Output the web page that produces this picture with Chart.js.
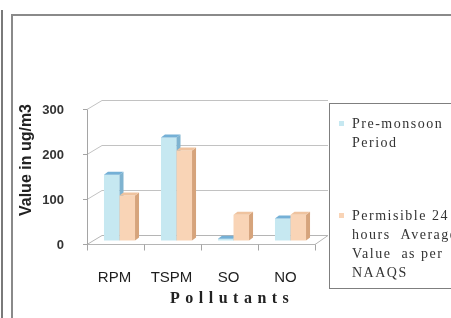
<!DOCTYPE html>
<html>
<head>
<meta charset="utf-8">
<script src="https://cdn.jsdelivr.net/npm/chart.js@4.4.1/dist/chart.umd.min.js"></script>
<style>
  html, body { margin: 0; padding: 0; background: #fff; }
  body { width: 451px; height: 318px; overflow: hidden; position: relative; }
  #wrap { position: absolute; left: 0; top: 0; width: 451px; height: 318px; }
  .rule-left { position: absolute; left: 1px; top: 10px; width: 2px; height: 310px; background: #7a7a7a; }
  .frame { position: absolute; left: 11px; top: 14px; width: 460px; height: 320px;
           border-left: 2px solid #8a8a8a; border-top: 2px solid #8a8a8a; }
  .ytitle { position: absolute; left: 26px; top: 160px; transform: translate(-50%, -50%) rotate(-90deg);
            font: bold 16px "Liberation Sans", Arial, sans-serif; color: #222; white-space: nowrap; }
  .xtitle { position: absolute; left: 170px; top: 289px; line-height: 16px;
            font: bold 16px "Liberation Serif", "Times New Roman", serif; letter-spacing: 5.5px; color: #222; }
  #legend { position: absolute; left: 329px; top: 103px; width: 140px; height: 184px;
            border: 1px solid #7f7f7f; font: 14px "Liberation Serif", "Times New Roman", serif;
            letter-spacing: 1.5px; color: #333; line-height: 19px; }
  .item { position: absolute; left: 8px; }
  .item .mk { position: absolute; left: 1px; top: 7px; width: 5px; height: 5px; }
  .item .tx { position: absolute; left: 14px; top: 0; white-space: nowrap; }
</style>
</head>
<body>
<div id="wrap"><canvas id="chart" width="451" height="318"></canvas></div>
<div class="rule-left"></div>
<div class="frame"></div>
<div class="ytitle">Value in ug/m3</div>
<div class="xtitle">Pollutants</div>
<div id="legend"></div>
<script>
const categories = ['RPM', 'TSPM', 'SO', 'NO'];
const preMonsoon = [146, 229, 4, 49];
const naaqs = [100, 200, 57, 57];
const yTicks = [0, 100, 200, 300];
const seriesLabels = [['Pre-monsoon', 'Period'], ['Permisible 24', 'hours  Average', 'Value  as per', 'NAAQS']];

// front / side / top colours of the fake 3d bars
const faces = [
  { front: '#c6e8f1', side: '#7fb3d0', top: '#74b0d6' },
  { front: '#f9d4b6', side: '#d6a47c', top: '#efc39f' }
];

function drawWalls(chart) {
  const { ctx, chartArea: a, scales: { y } } = chart;
  const x0 = a.left + 1, x1 = a.right + 1, dx = 15, dy = -9;
  const yf = v => Math.round(y.getPixelForValue(v) - 2) + 0.5;
  ctx.save();
  ctx.lineWidth = 1;
  ctx.strokeStyle = '#c2c2c2';
  yTicks.forEach(v => {
    if (v === 0) return;
    ctx.beginPath();
    ctx.moveTo(x0, yf(v));
    ctx.lineTo(x0 + dx, yf(v) + dy);
    ctx.lineTo(x1 + dx - 2, yf(v) + dy);
    ctx.stroke();
  });
  // floor
  const f = yf(0);
  ctx.strokeStyle = '#b5b5b5';
  ctx.beginPath();
  ctx.moveTo(x0, f);
  ctx.lineTo(x1, f);
  ctx.lineTo(x1 + dx - 2, f + dy);
  ctx.lineTo(x0 + dx, f + dy);
  ctx.closePath();
  ctx.stroke();
  // left axis and tick marks
  ctx.strokeStyle = '#a5a5a5';
  ctx.beginPath();
  ctx.moveTo(x0 + 0.5, f);
  ctx.lineTo(x0 + 0.5, yf(300));
  yTicks.forEach(v => { ctx.moveTo(x0 - 4, yf(v)); ctx.lineTo(x0, yf(v)); });
  const step = (a.right - a.left) / categories.length;
  for (let i = 0; i <= categories.length; i++) {
    const x = Math.round(x0 + i * step) + 0.5;
    ctx.moveTo(x, f);
    ctx.lineTo(x, f + 6);
  }
  ctx.stroke();
  ctx.restore();
}

const depth3d = {
  id: 'depth3d',
  beforeDatasetsDraw(chart) {
    drawWalls(chart);
    // bars drawn series by series, pushed back into the box, each with its side and top
    const ctx = chart.ctx;
    const dx = 4, dy = -3;
    ctx.save();
    ctx.translate(5, -5);
    chart.data.datasets.forEach((ds, i) => {
      const c = faces[i];
      chart.getDatasetMeta(i).data.forEach(el => {
        const { x, y, base, width } = el.getProps(['x', 'y', 'base', 'width'], true);
        const l = x - width / 2, r = x + width / 2;
        el.draw(ctx);
        ctx.fillStyle = c.side;
        ctx.beginPath();
        ctx.moveTo(r, y); ctx.lineTo(r + dx, y + dy); ctx.lineTo(r + dx, base + dy); ctx.lineTo(r, base);
        ctx.closePath(); ctx.fill();
        ctx.fillStyle = c.top;
        ctx.beginPath();
        ctx.moveTo(l, y); ctx.lineTo(l + dx, y + dy); ctx.lineTo(r + dx, y + dy); ctx.lineTo(r, y);
        ctx.closePath(); ctx.fill();
      });
    });
    ctx.restore();
    return false; // skip the flat default bars
  }
};

const chart = new Chart(document.getElementById('chart'), {
  type: 'bar',
  data: {
    labels: categories,
    datasets: [
      { label: seriesLabels[0], data: preMonsoon, backgroundColor: faces[0].front, borderWidth: 0 },
      { label: seriesLabels[1], data: naaqs, backgroundColor: faces[1].front, borderWidth: 0 }
    ]
  },
  options: {
    responsive: false,
    animation: false,
    events: [],
    layout: { padding: { left: 0, right: 137, top: 110.5, bottom: 0 } },
    categoryPercentage: 0.545,
    barPercentage: 1.0,
    plugins: { legend: { display: false }, tooltip: { enabled: false } },
    scales: {
      x: {
        grid: { display: false, drawTicks: false },
        border: { display: false },
        ticks: { padding: 23, color: '#1e1e1e', font: { family: 'Liberation Sans', size: 15 } },
        afterFit(scale) { scale.height = 72.5; }
      },
      y: {
        min: 0,
        max: 300,
        grid: { display: false, drawTicks: false },
        border: { display: false },
        afterBuildTicks(scale) { scale.ticks = yTicks.map(v => ({ value: v })); },
        ticks: { padding: 22, color: '#333', font: { family: 'Liberation Sans', size: 13, weight: 'bold' } },
        afterFit(scale) { scale.width = 86; }
      }
    }
  },
  plugins: [depth3d]
});

// legend built from the datasets
const legend = document.getElementById('legend');
const tops = [10, 102];
chart.data.datasets.forEach((ds, i) => {
  const item = document.createElement('div');
  item.className = 'item';
  item.style.top = tops[i] + 'px';
  const mk = document.createElement('span');
  mk.className = 'mk';
  mk.style.background = ds.backgroundColor;
  const tx = document.createElement('span');
  tx.className = 'tx';
  tx.innerHTML = ds.label.map(s => s.replace(/  /g, ' &nbsp;')).join('<br>');
  item.appendChild(mk);
  item.appendChild(tx);
  legend.appendChild(item);
});
</script>
</body>
</html>
